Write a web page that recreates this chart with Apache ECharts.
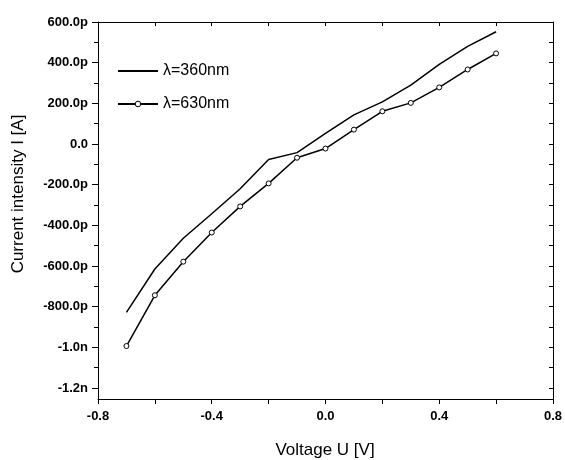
<!DOCTYPE html>
<html>
<head>
<meta charset="utf-8">
<script src="https://cdn.jsdelivr.net/npm/echarts@6/dist/echarts.min.js"></script>
<style>
    html, body { margin: 0; padding: 0; background: #fff; }
    #chart { width: 565px; height: 460px; }
</style>
</head>
<body>
<div id="chart"></div>
<script>
// voltage (V)
var voltage = [-0.7, -0.6, -0.5, -0.4, -0.3, -0.2, -0.1, 0.0, 0.1, 0.2, 0.3, 0.4, 0.5, 0.6];
// current in pA
var current360 = [-825, -612, -461, -341, -218, -75, -41, 53, 144, 208, 290, 392, 480, 552];
var current630 = [-990, -741, -576, -433, -305, -192, -66, -21, 72, 162, 203, 279, 367, 446];
var seriesNames = ['\u03bb=360nm', '\u03bb=630nm'];

var FONT = 'Arial, "Liberation Sans", sans-serif';

function pairs(xs, ys) {
    var out = [];
    for (var i = 0; i < xs.length; i++) out.push([xs[i], ys[i]]);
    return out;
}

function currentLabel(v) {
    if (v === 0) return '0.0';
    if (Math.abs(v) >= 1000) return (v / 1000).toFixed(1) + 'n';
    return v.toFixed(1) + 'p';
}

var dom = document.getElementById('chart');
var myChart = echarts.init(dom, null, { renderer: 'canvas' });

var lineStyle = { color: '#000', width: 1 };

var option = {
    backgroundColor: '#fff',
    animation: false,
    textStyle: { fontFamily: FONT },
    grid: [
        // plot frame + data
        { left: 98, right: 12, top: 22, bottom: 61 },
        // labelled current axis (-1.2n .. 600p)
        { left: 98, right: 12, top: 22, bottom: 72 }
    ],
    legend: {
        orient: 'vertical',
        left: 112,
        top: 58,
        itemWidth: 40,
        itemHeight: 7,
        itemGap: 17,
        textStyle: { fontSize: 16, color: '#000', fontFamily: FONT },
        data: [
            { name: seriesNames[0], itemStyle: { opacity: 0 } },
            { name: seriesNames[1], itemStyle: { color: '#fff', borderColor: '#000', borderWidth: 1 } }
        ]
    },
    xAxis: [
        {
            type: 'value', gridIndex: 0, min: -0.8, max: 0.8, interval: 0.4,
            axisLine: { show: true, onZero: false, lineStyle: lineStyle },
            axisTick: { show: true, inside: false, length: 5, lineStyle: lineStyle },
            minorTick: { show: true, splitNumber: 2, length: 5, lineStyle: lineStyle },
            axisLabel: {
                color: '#000', fontSize: 13, fontWeight: 'bold', margin: 11,
                formatter: function (v) { return v.toFixed(1); }
            },
            splitLine: { show: false }
        },
        {
            type: 'value', gridIndex: 0, position: 'top', min: -0.8, max: 0.8, interval: 0.2,
            axisLine: { show: true, onZero: false, lineStyle: lineStyle },
            axisTick: { show: true, inside: true, length: 4, lineStyle: lineStyle },
            axisLabel: { show: false },
            splitLine: { show: false }
        },
        {
            type: 'value', gridIndex: 1, min: -0.8, max: 0.8, show: false
        }
    ],
    yAxis: [
        {
            type: 'value', gridIndex: 0, min: -1250, max: 600,
            axisLine: { show: true, onZero: false, lineStyle: lineStyle },
            axisTick: { show: false },
            axisLabel: { show: false },
            splitLine: { show: false }
        },
        {
            type: 'value', gridIndex: 0, position: 'right', min: -1250, max: 600,
            axisLine: { show: true, onZero: false, lineStyle: lineStyle },
            axisTick: { show: false },
            axisLabel: { show: false },
            splitLine: { show: false }
        },
        {
            type: 'value', gridIndex: 1, min: -1200, max: 600, interval: 200,
            axisLine: { show: false, onZero: false },
            axisTick: { show: true, inside: false, length: 6, lineStyle: lineStyle },
            minorTick: { show: true, splitNumber: 2, length: 4, lineStyle: lineStyle },
            axisLabel: {
                color: '#000', fontSize: 13, fontWeight: 'bold', margin: 10,
                formatter: currentLabel
            },
            splitLine: { show: false }
        },
        {
            type: 'value', gridIndex: 1, position: 'right', min: -1200, max: 600, interval: 100,
            axisLine: { show: false, onZero: false },
            axisTick: { show: true, inside: true, length: 4, lineStyle: lineStyle },
            axisLabel: { show: false },
            splitLine: { show: false }
        }
    ],
    graphic: [
        {
            type: 'text', x: 18, y: 194, rotation: Math.PI / 2,
            style: {
                text: 'Current intensity I [A]', fill: '#000',
                font: '17px ' + FONT, textAlign: 'center', textVerticalAlign: 'middle'
            }
        },
        {
            type: 'text', x: 325, y: 450,
            style: {
                text: 'Voltage U [V]', fill: '#000',
                font: '17px ' + FONT, textAlign: 'center', textVerticalAlign: 'middle'
            }
        }
    ],
    series: [
        {
            name: seriesNames[0],
            type: 'line',
            xAxisIndex: 0, yAxisIndex: 0,
            data: pairs(voltage, current360),
            symbol: 'none',
            lineStyle: { color: '#000', width: 1.5 },
            itemStyle: { color: '#000' }
        },
        {
            name: seriesNames[1],
            type: 'line',
            xAxisIndex: 0, yAxisIndex: 0,
            data: pairs(voltage, current630),
            symbol: 'circle',
            symbolSize: 5,
            lineStyle: { color: '#000', width: 1.5 },
            itemStyle: { color: '#fff', borderColor: '#000', borderWidth: 1 }
        }
    ]
};

if (option && typeof option === 'object') {
    myChart.setOption(option);
}

window.addEventListener('resize', function () {
    myChart.resize();
});
</script>
</body>
</html>
